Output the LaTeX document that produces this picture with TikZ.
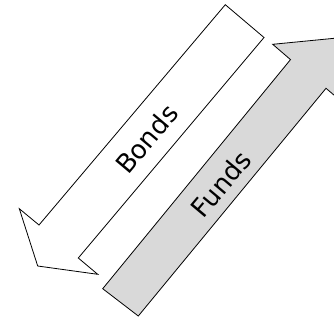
\documentclass[tikz,border=0pt]{standalone}
\usepackage{fontspec}
\setmainfont{DejaVu Sans}
\definecolor{fundsgray}{RGB}{217,217,217}
\begin{document}
\begin{tikzpicture}[x=1pt,y=-1pt,
  arrowshape/.style={draw=black, line width=0.8pt, line join=miter},
  lbl/.style={font=\fontsize{26}{30}\selectfont, inner sep=0pt, rotate=50}]
\useasboundingbox (0,0) rectangle (334,321);
\clip (0,0) rectangle (334,321);
% Bonds arrow (down-left, white)
\draw[arrowshape, fill=white] (225.3,4.7) -- (264,37.5) -- (78.3,258) -- (97.7,274.3)
  -- (37.7,266) -- (19.3,208.7) -- (39,225) -- cycle;
% Funds arrow (up-right, gray)
\draw[arrowshape, fill=fundsgray] (102.7,288.7) -- (138.3,316) -- (326,88.3) -- (343.3,103)
  -- (337.3,38) -- (272.7,44.3) -- (290.5,59.6) -- cycle;
\node[lbl] (bonds) at (146.5,139) {Bonds};
\node[lbl] (funds) at (221,184) {Funds};
\end{tikzpicture}
\end{document}
